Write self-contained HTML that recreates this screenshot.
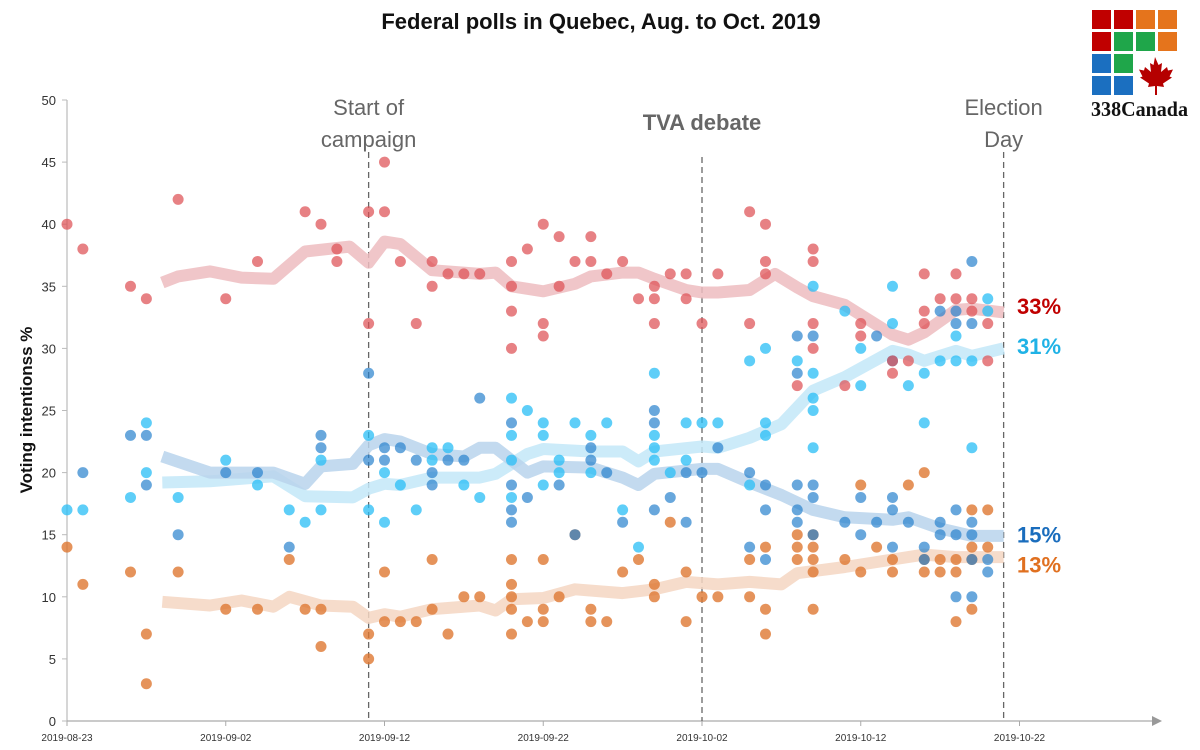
<!DOCTYPE html>
<html><head><meta charset="utf-8"><style>
body{margin:0;background:#fff;font-family:"Liberation Sans",sans-serif}
svg{display:block}
</style></head><body>
<svg id="c" width="1200" height="750" xmlns="http://www.w3.org/2000/svg"></svg>
<script>
const dayLabels=["2019-08-23","2019-09-02","2019-09-12","2019-09-22","2019-10-02","2019-10-12","2019-10-22"];
const dayTicks=[0,10,20,30,40,50,60];
const yTicks=[0,5,10,15,20,25,30,35,40,45,50];
// polls: [day offset from 2019-08-23, value]
const lpcPolls=[[0,40],[1,38],[4,35],[5,34],[7,42],[10,34],[12,37],[15,41],[16,40],[17,38],[17,37],[19,41],[19,32],[20,45],[20,41],[21,37],[22,32],[23,37],[23,35],[24,36],[25,36],[26,36],[28,37],[28,35],[28,33],[28,30],[29,38],[30,40],[30,32],[30,31],[31,39],[31,35],[32,37],[33,39],[33,37],[34,36],[35,37],[36,34],[37,35],[37,34],[37,32],[38,36],[39,36],[39,34],[40,32],[41,36],[43,41],[43,32],[44,40],[44,37],[44,36],[46,27],[47,38],[47,37],[47,32],[47,30],[49,27],[50,32],[50,31],[52,29],[52,28],[53,29],[54,36],[54,33],[54,32],[55,34],[56,36],[56,34],[57,34],[57,33],[58,32],[58,29]];
const bqPolls=[[0,17],[1,17],[4,18],[5,24],[5,20],[7,18],[10,21],[12,19],[14,17],[15,16],[16,21],[16,17],[19,23],[19,17],[20,20],[20,16],[21,19],[22,17],[23,22],[23,21],[24,22],[25,19],[26,18],[28,26],[28,23],[28,21],[28,18],[29,25],[30,24],[30,23],[30,19],[31,21],[31,20],[32,24],[33,23],[33,20],[34,24],[35,17],[36,14],[37,28],[37,23],[37,22],[37,21],[38,20],[39,24],[39,21],[40,24],[41,24],[43,29],[43,19],[44,30],[44,24],[44,23],[46,29],[47,35],[47,28],[47,26],[47,25],[47,22],[49,33],[50,30],[50,27],[52,35],[52,32],[53,27],[54,28],[54,24],[55,29],[56,31],[56,29],[57,29],[57,22],[58,34],[58,33]];
const cpcPolls=[[1,20],[4,23],[5,23],[5,19],[7,15],[10,20],[12,20],[14,14],[16,23],[16,22],[19,28],[19,21],[20,22],[20,21],[21,22],[22,21],[23,20],[23,19],[24,21],[25,21],[26,26],[28,24],[28,19],[28,17],[28,16],[29,18],[31,19],[32,15],[33,22],[33,21],[34,20],[35,16],[37,25],[37,24],[37,17],[38,18],[39,20],[39,16],[40,20],[41,22],[43,20],[43,14],[44,19],[44,17],[44,13],[46,31],[46,28],[46,19],[46,17],[46,16],[47,31],[47,19],[47,18],[47,15],[49,16],[50,18],[50,15],[51,31],[51,16],[52,29],[52,18],[52,17],[52,14],[53,16],[54,14],[54,13],[55,33],[55,16],[55,15],[56,33],[56,32],[56,17],[56,15],[56,10],[57,37],[57,32],[57,16],[57,15],[57,13],[57,10],[58,13],[58,12]];
const ndpPolls=[[0,14],[1,11],[4,12],[5,7],[5,3],[7,12],[10,9],[12,9],[14,13],[15,9],[16,9],[16,6],[19,7],[19,5],[20,12],[20,8],[21,8],[22,8],[23,13],[23,9],[24,7],[25,10],[26,10],[28,13],[28,11],[28,10],[28,9],[28,7],[29,8],[30,13],[30,9],[30,8],[31,10],[32,15],[33,9],[33,8],[34,8],[35,12],[36,13],[37,11],[37,10],[38,16],[39,12],[39,8],[40,10],[41,10],[43,13],[43,10],[44,14],[44,9],[44,7],[46,15],[46,14],[46,13],[47,15],[47,14],[47,13],[47,12],[47,9],[49,13],[50,19],[50,12],[51,14],[52,13],[52,12],[53,19],[54,20],[54,13],[54,12],[55,13],[55,12],[56,13],[56,12],[56,8],[57,17],[57,14],[57,13],[57,9],[58,17],[58,14]];
// trend lines: [day, value]
const lpcTrend=[[6,35.3],[7,35.8],[9,36.2],[11,35.7],[13,35.6],[15,37.8],[17.8,38.2],[19,36.9],[20,38.6],[21,38.4],[23,36.3],[26,36],[27,36.1],[28,35],[30,34.6],[32,35.2],[33,35.8],[35,36.1],[36,36.1],[37,35.6],[39,34.7],[40,34.5],[41,34.5],[43,34.7],[44.6,36],[46,34.9],[47,34.2],[49,33.5],[50,32.7],[52,31.1],[53,30.7],[54,31.3],[56,33.1],[57,33.2],[59,32.9]];
const bqTrend=[[6,19.2],[9,19.3],[13,19.7],[15,18.1],[18,18],[19,18.7],[20,19.1],[21,19],[23,19.6],[26,19.6],[27,19.9],[29,21.5],[30,21.9],[33,21.7],[35,21.7],[36,20.9],[37,21.7],[40,22.1],[41,22],[43,22.8],[45,23.9],[47,26.6],[49,27.7],[52,29.8],[53,29.5],[54,29],[56,29.8],[57,29.4],[59,30]];
const cpcTrend=[[6,21.3],[9,20],[13,20],[15,19.1],[16,20.5],[18,20.7],[19,22.2],[20,22.7],[21,22.5],[23,21.5],[25,21.3],[26,22],[27,22],[29,20],[30,20.5],[33,20.4],[35,19.6],[36,19],[37,19.9],[40,20.3],[41,20.3],[43,19.2],[45,18.2],[47,17],[49,16.4],[52,16.2],[53,16.4],[55,15.5],[57,14.9],[59,14.9]];
const ndpTrend=[[6,9.6],[9,9.3],[11,9.7],[13,9.2],[14,10],[16,9.3],[18,9.2],[19,8.3],[20,8.6],[21,8.4],[23,9],[26,9.3],[27,8.9],[28,9.8],[30,9.9],[32,10.6],[35,10.3],[37,10.6],[39,11.2],[40,11.1],[41,11],[43,11.2],[45,11],[46,11.9],[49,12.4],[52,13],[54,13.4],[56,13.2],[59,13.2]];
const finalLabels=["33%","31%","15%","13%"];
const finalValues=[33,31,15,13];

const svg=document.getElementById('c');
const NS="http://www.w3.org/2000/svg";
const X=d=>67+15.875*d;
const Y=v=>721-12.42*v;
function mk(tag,attrs,parent){const e=document.createElementNS(NS,tag);for(const k in attrs)e.setAttribute(k,attrs[k]);(parent||svg).appendChild(e);return e;}
function txt(s,attrs,parent){const e=mk('text',attrs,parent);e.textContent=s;return e;}

let t=txt("Federal polls in Quebec, Aug. to Oct. 2019",{x:601,y:29,'text-anchor':'middle','font-size':22,'font-weight':'bold',fill:'#111'});



let ax=mk('g',{});


mk('line',{x1:67,y1:100,x2:67,y2:721,stroke:'#bbb','stroke-width':1.2},ax);
mk('line',{x1:67,y1:721,x2:1152,y2:721,stroke:'#aaa','stroke-width':1.2},ax);
mk('path',{d:'M1152,716 L1162,721 L1152,726 Z',fill:'#999'},ax);
yTicks.forEach(v=>{
  mk('line',{x1:62,y1:Y(v),x2:67,y2:Y(v),stroke:'#bbb'},ax);
  const e=txt(String(v),{x:56,y:Y(v)+5,'text-anchor':'end','font-size':13,fill:'#333'},ax);
  
  
});
dayTicks.forEach((d,i)=>{
  mk('line',{x1:X(d),y1:721,x2:X(d),y2:726,stroke:'#aaa'},ax);
  const e=txt(dayLabels[i],{x:X(d),y:741,'text-anchor':'middle','font-size':10,fill:'#333'},ax);
  
  
});
let yt=txt("Voting intentionss %",{x:0,y:0,transform:'translate(32,410) rotate(-90)','text-anchor':'middle','font-size':17,'font-weight':'bold',fill:'#111'});



const events=[[19,["Start of","campaign"],false],[40,["TVA debate"],true],[59,["Election","Day"],false]];
events.forEach(ev=>{
  const g=mk('g',{});
  
  
  const top=ev[1].length>1?152:157;
  mk('line',{x1:X(ev[0]),y1:top,x2:X(ev[0]),y2:721,stroke:'#666','stroke-width':1.3,'stroke-dasharray':'6,4'},g);
  ev[1].forEach((s,i)=>{
    const ty=ev[1].length>1?115+i*32:130;
    txt(s,{x:X(ev[0]),y:ty,'text-anchor':'middle','font-size':22,'font-weight':ev[2]?'bold':'normal',fill:'#666'},g);
  });
});

const trends=[[lpcTrend,'#edbcbf','lpc-trend'],[bqTrend,'#c3e8f8','bq-trend'],[cpcTrend,'#b9d3ec','cpc-trend'],[ndpTrend,'#f4d6c2','ndp-trend']];
trends.forEach(tr=>{
  const p=mk('path',{d:tr[0].map((q,i)=>(i?'L':'M')+X(q[0]).toFixed(1)+','+Y(q[1]).toFixed(1)).join(' '),fill:'none',stroke:tr[1],'stroke-width':12,'stroke-linejoin':'round','opacity':0.85});
  
  
});

const series=[[ndpPolls,'rgba(222,120,50,0.8)','ndp-poll'],[cpcPolls,'rgba(40,130,205,0.7)','cpc-poll'],[bqPolls,'rgba(40,190,245,0.75)','bq-poll'],[lpcPolls,'rgba(222,80,85,0.72)','lpc-poll']];
series.forEach(s=>{
  const g=mk('g',{});
  
  
  s[0].forEach(q=>{
    const c=mk('circle',{cx:X(q[0]),cy:Y(q[1]),r:5.5,fill:s[1]},g);
    
    
  });
});

const labColors=['#c00000','#1fb2e6','#1a6dbd','#e07020'];
const labOffsets=[-5,10,0,5];
finalLabels.forEach((s,i)=>{
  const e=txt(s,{x:1017,y:Y(finalValues[i])+labOffsets[i]+8,'font-size':22,'font-weight':'bold',fill:labColors[i]});
  
  
});

const logo=mk('g',{});


const lc=[['#c00000','#c00000','#e5741c','#e5741c'],['#c00000','#1fa64a','#1fa64a','#e5741c'],['#1b6fc0','#1fa64a',null,null],['#1b6fc0','#1b6fc0',null,null]];
for(let r=0;r<4;r++)for(let c=0;c<4;c++){ if(lc[r][c]) mk('rect',{x:1092+c*22,y:10+r*22,width:19,height:19,fill:lc[r][c]},logo);}
mk('path',{d:'M1155,57 l3.5,8 l3.5,-2 l-1,9 l6,-5 l1,3.5 l5,-1 l-3.5,7 l2.5,1 l-9,6 l1,3.5 l-7,-1 l0,9 l-2,0 l0,-9 l-7,1 l1,-3.5 l-9,-6 l2.5,-1 l-3.5,-7 l5,1 l1,-3.5 l6,5 l-1,-9 l3.5,2 Z',fill:'#b50000'},logo);
txt("338Canada",{x:1091,y:116,'font-family':'"Liberation Serif",serif','font-size':21,'font-weight':'bold',fill:'#111',textLength:97,lengthAdjust:'spacingAndGlyphs'},logo);
</script>
</body></html>
